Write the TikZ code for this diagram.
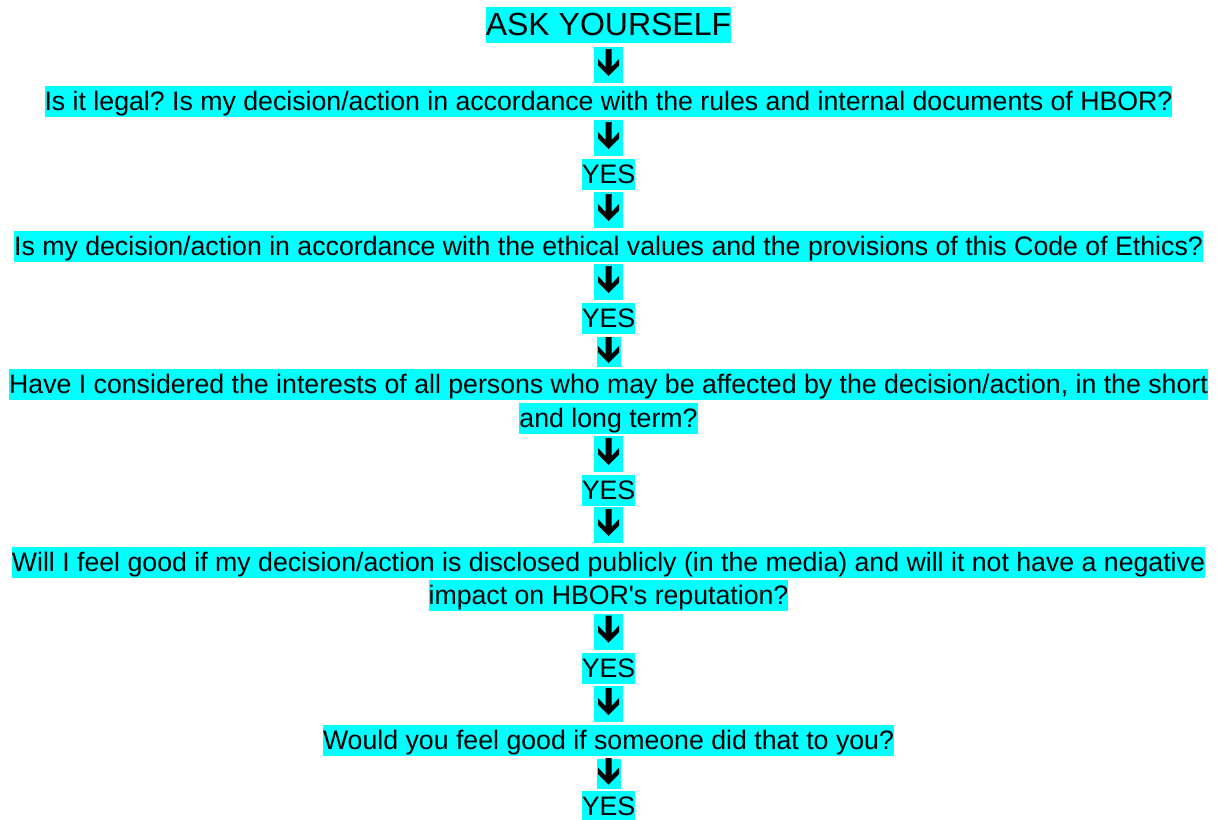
\documentclass[tikz,border=0pt]{standalone}
\usepackage{fontspec}
\setmainfont{Liberation Sans}
\frenchspacing
\definecolor{hl}{RGB}{0,255,255}
\tikzset{
  txt/.style={fill=hl, inner xsep=0pt, inner ysep=0pt, text height=24.5pt, text depth=6.5pt,
    font=\fontsize{26.7pt}{32pt}\selectfont\frenchspacing},
  head/.style={fill=hl, inner xsep=0pt, inner ysep=0pt, text height=29pt, text depth=7.6pt,
    font=\fontsize{32pt}{38pt}\selectfont},
  glyph/.style={path picture={
    \fill[black, shift={(path picture bounding box.center)}]
      (-3,16) -- (3,16) -- (3,-2) -- (10.5,6) -- (10.5,-0.5) -- (0,-11)
      -- (-10.5,-0.5) -- (-10.5,6) -- (-3,-2) -- cycle;}},
  arrowbox/.style={fill=hl, inner sep=0pt, minimum width=29pt, minimum height=36pt, glyph},
  smallarrow/.style={fill=hl, inner sep=0pt, minimum width=24pt, minimum height=30pt, glyph},
}
\begin{document}
\begin{tikzpicture}[x=1pt,y=1pt]
\useasboundingbox (0,0) rectangle (1217,-819);
\node[head] (ask) at (608.5,-25) {ASK YOURSELF};
\node[arrowbox] (a1) at (608.5,-65) {};
\node[txt] (q1) at (608.5,-101.5) {Is it legal? Is my decision/action in accordance with the rules and internal documents of HBOR?};
\node[arrowbox] (a2) at (608.5,-138) {};
\node[txt] (y1) at (608.5,-174.5) {YES};
\node[arrowbox] (a3) at (608.5,-210) {};
\node[txt] (q2) at (608.5,-246.5) {Is my decision/action in accordance with the ethical values and the provisions of this Code of Ethics?};
\node[arrowbox] (a4) at (608.5,-282) {};
\node[txt] (y2) at (608.5,-318.5) {YES};
\node[smallarrow] (a5) at (608.5,-352) {};
\node[txt] (q3a) at (608.5,-384.5) {Have I considered the interests of all persons who may be affected by the decision/action, in the short};
\node[txt] (q3b) at (608.5,-418.5) {and long term?};
\node[arrowbox] (a6) at (608.5,-454) {};
\node[txt] (y3) at (608.5,-490) {YES};
\node[arrowbox] (a7) at (608.5,-525) {};
\node[txt] (q4a) at (608.5,-562) {Will I feel good if my decision/action is disclosed publicly (in the media) and will it not have a negative};
\node[txt] (q4b) at (608.5,-595.5) {impact on HBOR\textquotesingle s reputation?};
\node[arrowbox] (a8) at (608.5,-631.5) {};
\node[txt] (y4) at (608.5,-668) {YES};
\node[arrowbox] (a9) at (608.5,-704) {};
\node[txt] (q5) at (608.5,-740.5) {Would you feel good if someone did that to you?};
\node[smallarrow] (a10) at (608.5,-773.5) {};
\node[txt] (y5) at (608.5,-806.5) {YES};
\end{tikzpicture}
\end{document}
